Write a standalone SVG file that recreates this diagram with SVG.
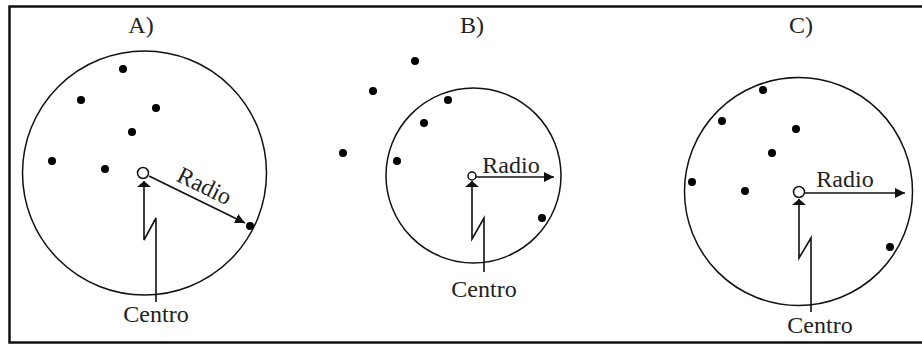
<svg xmlns="http://www.w3.org/2000/svg" width="922" height="345" viewBox="0 0 922 345">
  <style>
    .frame { fill: none; stroke: #111; stroke-width: 2.5; }
    .ring { fill: none; stroke: #111; stroke-width: 1.5; }
    .dot { fill: #000; }
    .ctr { fill: #fff; stroke: #111; stroke-width: 1.5; }
    .ln { fill: none; stroke: #111; stroke-width: 1.6; }
    .lbl { font-family: "Liberation Serif", "Times New Roman", serif; font-size: 24px; fill: #222; text-anchor: middle; }
  </style>
  <defs>
    <marker id="radHead" viewBox="0 0 10 10" refX="10" refY="5" markerWidth="10" markerHeight="10" markerUnits="userSpaceOnUse" orient="auto">
      <path d="M0,0 L10,5 L0,10 Z" fill="#111"/>
    </marker>
    <marker id="ctrHead" viewBox="0 0 6 14" refX="6" refY="7" markerWidth="6" markerHeight="14" markerUnits="userSpaceOnUse" orient="auto">
      <path d="M0,0 L6,7 L0,14 Z" fill="#111"/>
    </marker>
  </defs>
  <rect x="0" y="0" width="922" height="345" fill="#fff"/>
  <rect class="frame" x="9.5" y="6.5" width="915" height="336"/>

  <g id="panelA">
    <text class="lbl" x="141" y="33">A)</text>
    <circle class="ring" cx="144.5" cy="173" r="122"/>
    <circle class="dot" cx="123" cy="69" r="4"/>
    <circle class="dot" cx="81" cy="100" r="4"/>
    <circle class="dot" cx="156" cy="108" r="4"/>
    <circle class="dot" cx="132" cy="132" r="4"/>
    <circle class="dot" cx="52" cy="161" r="4"/>
    <circle class="dot" cx="105" cy="169" r="4"/>
    <circle class="dot" cx="250" cy="226" r="4"/>
  </g>
  <g id="panelB">
    <text class="lbl" x="472" y="33">B)</text>
    <circle class="ring" cx="473.5" cy="175.5" r="87.5"/>
    <circle class="dot" cx="415" cy="61" r="4"/>
    <circle class="dot" cx="373" cy="91" r="4"/>
    <circle class="dot" cx="448" cy="100" r="4"/>
    <circle class="dot" cx="424" cy="123" r="4"/>
    <circle class="dot" cx="343" cy="153" r="4"/>
    <circle class="dot" cx="397" cy="161" r="4"/>
    <circle class="dot" cx="542" cy="218" r="4"/>
  </g>
  <g id="panelC">
    <text class="lbl" x="801" y="33">C)</text>
    <circle class="ring" cx="798.5" cy="191.5" r="114"/>
    <circle class="dot" cx="763" cy="90" r="4"/>
    <circle class="dot" cx="722" cy="121" r="4"/>
    <circle class="dot" cx="796" cy="129" r="4"/>
    <circle class="dot" cx="772" cy="153" r="4"/>
    <circle class="dot" cx="692" cy="182" r="4"/>
    <circle class="dot" cx="745" cy="191" r="4"/>
    <circle class="dot" cx="890" cy="247" r="4"/>
  </g>

  <g id="connectors">
    <path class="ln" d="M149,176 L245,223" marker-end="url(#radHead)"/>
    <path class="ln" d="M156,302 L156,218 L144,240 L144,181" marker-end="url(#ctrHead)"/>
    <path class="ln" d="M476,177 L554,177" marker-end="url(#radHead)"/>
    <path class="ln" d="M484,272 L484,218 L472,239 L472,181" marker-end="url(#ctrHead)"/>
    <path class="ln" d="M804,193 L905,193" marker-end="url(#radHead)"/>
    <path class="ln" d="M811,312 L811,238 L799,258 L799,199" marker-end="url(#ctrHead)"/>
  </g>

  <g id="centerA">
    <circle class="ctr" cx="143" cy="173" r="5.5"/>
    <text class="lbl" transform="translate(201,193) rotate(26)" x="0" y="0">Radio</text>
    <text class="lbl" x="156" y="322">Centro</text>
  </g>
  <g id="centerB">
    <circle class="ctr" cx="472" cy="176" r="4"/>
    <text class="lbl" x="511" y="173">Radio</text>
    <text class="lbl" x="484" y="297">Centro</text>
  </g>
  <g id="centerC">
    <circle class="ctr" cx="799" cy="192" r="5.5"/>
    <text class="lbl" x="845" y="187">Radio</text>
    <text class="lbl" x="820" y="333">Centro</text>
  </g>
</svg>
